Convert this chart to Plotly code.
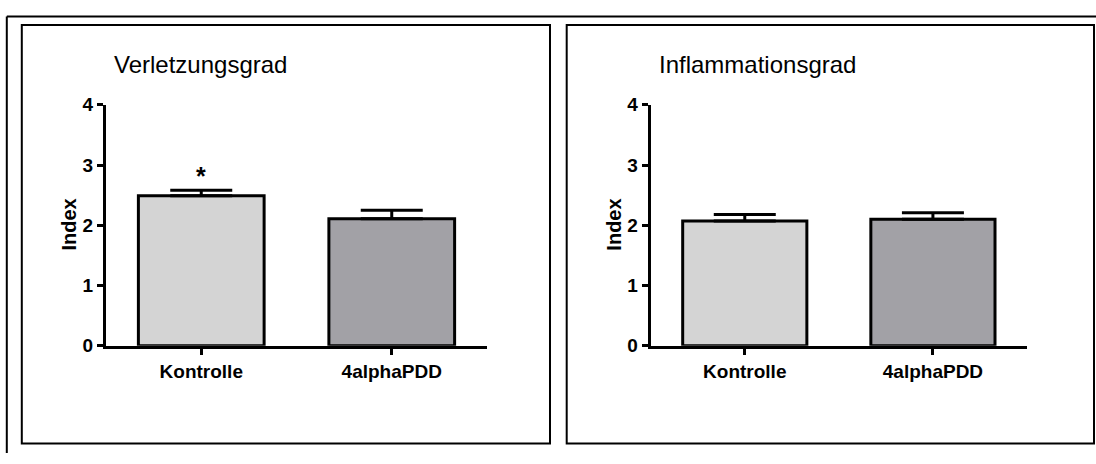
import plotly.graph_objects as go

# ---- data ----
categories = ["Kontrolle", "4alphaPDD"]
verletzung_mean = [2.49, 2.11]
verletzung_sem = [0.09, 0.14]
inflammation_mean = [2.07, 2.10]
inflammation_sem = [0.11, 0.11]
bar_colors = ["#D4D4D4", "#A2A1A6"]
y_ticks = [0, 1, 2, 3, 4]
panel_titles = ["Verletzungsgrad", "Inflammationsgrad"]
y_title = "Index"
significance = ["*", ""]

W, H = 1096, 464
FONT = "Liberation Sans, Arial, sans-serif"


def px(x):
    return x / W


def py(y):
    return 1 - y / H


fig = go.Figure()

for i, (means, sems) in enumerate([(verletzung_mean, verletzung_sem),
                                   (inflammation_mean, inflammation_sem)]):
    xa = "x" if i == 0 else "x2"
    ya = "y" if i == 0 else "y2"
    fig.add_trace(go.Bar(
        x=categories, y=means,
        xaxis=xa, yaxis=ya,
        width=0.66,
        marker=dict(color=bar_colors, line=dict(color="black", width=3)),
        error_y=dict(type="data", symmetric=False, array=sems,
                     arrayminus=[0] * len(sems),
                     color="black", thickness=3, width=31),
        showlegend=False,
        hoverinfo="x+y",
    ))

axis_common = dict(
    showline=True, linecolor="black", linewidth=3,
    ticks="outside", ticklen=6, tickwidth=3, tickcolor="black",
    showgrid=False, zeroline=False,
    tickfont=dict(family=FONT, size=19, color="black", weight="bold"),
)

ydom = [py(351.7), py(99.3)]
fig.update_layout(
    width=W, height=H,
    margin=dict(l=0, r=0, t=0, b=0),
    paper_bgcolor="white", plot_bgcolor="white",
    xaxis=dict(domain=[px(106), px(487)], anchor="y", range=[-0.5, 1.5], **axis_common),
    yaxis=dict(domain=ydom, anchor="x", range=[0, 4], tickvals=y_ticks, **axis_common),
    xaxis2=dict(domain=[px(650.7), px(1027)], anchor="y2", range=[-0.5, 1.5], **axis_common),
    yaxis2=dict(domain=ydom, anchor="x2", range=[0, 4], tickvals=y_ticks, **axis_common),
)

annotations = []
# panel titles
for xpos, t in zip([112, 657], panel_titles):
    annotations.append(dict(
        text=t, xref="paper", yref="paper", x=px(xpos), y=py(57),
        xanchor="left", yanchor="middle", showarrow=False,
        font=dict(family=FONT, size=24, color="black"),
    ))
# y axis titles
for xpos in [69.2, 614.3]:
    annotations.append(dict(
        text=y_title, xref="paper", yref="paper", x=px(xpos), y=py(224.5),
        xanchor="center", yanchor="middle", textangle=-90, showarrow=False,
        font=dict(family=FONT, size=20, color="black", weight="bold"),
    ))
# significance marks
for cat, mark in zip(categories, significance):
    if mark:
        annotations.append(dict(
            text=mark, xref="x", yref="y", x=cat, y=2.82,
            xanchor="center", yanchor="middle", showarrow=False,
            font=dict(family=FONT, size=25, color="black", weight="bold"),
        ))
fig.update_layout(annotations=annotations)

# frames
shapes = [
    dict(type="line", xref="paper", yref="paper", x0=px(6.8), x1=px(1096), y0=py(6.7), y1=py(6.7),
         line=dict(color="black", width=2)),
    dict(type="line", xref="paper", yref="paper", x0=px(6.8), x1=px(6.8), y0=py(6.7), y1=py(464),
         line=dict(color="black", width=2)),
    dict(type="rect", xref="paper", yref="paper", x0=px(21.8), x1=px(550), y0=py(15.7), y1=py(454),
         line=dict(color="black", width=2)),
    dict(type="rect", xref="paper", yref="paper", x0=px(566.7), x1=px(1094), y0=py(15.7), y1=py(454),
         line=dict(color="black", width=2)),
]
fig.update_layout(shapes=shapes)

fig.write_html(
    "out.html",
    config={"displayModeBar": False},
    post_script="document.body.style.margin='0';document.body.style.overflow='hidden';",
)
